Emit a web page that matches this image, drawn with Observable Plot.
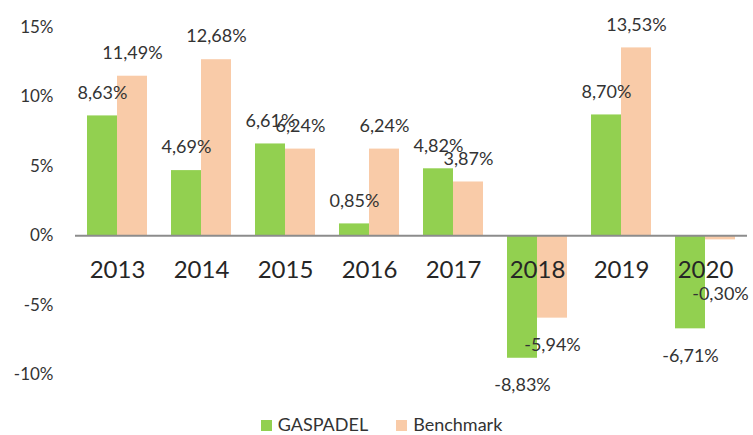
<!DOCTYPE html>
<html>
<head>
<meta charset="utf-8">
<script src="https://cdn.jsdelivr.net/npm/d3@7"></script>
<script src="https://cdn.jsdelivr.net/npm/@observablehq/plot@0.6"></script>
<style>
  html, body { margin: 0; padding: 0; background: #fff; }
  body { width: 753px; height: 435px; overflow: hidden; font-family: Lato, "Open Sans", sans-serif; }
  #legend { display: flex; justify-content: center; gap: 28px; font-size: 18px; color: #333; height: 30px; align-items: center; margin-left: 10px; padding-top: 4px; }
  #legend span.sw { display: inline-block; width: 11px; height: 11px; margin-right: 6px; vertical-align: 0px; }
</style>
</head>
<body>
<div id="chart"></div>
<div id="legend"></div>
<script>
const years = ["2013", "2014", "2015", "2016", "2017", "2018", "2019", "2020"];
const seriesNames = ["GASPADEL", "Benchmark"];
const gaspadel = [8.63, 4.69, 6.61, 0.85, 4.82, -8.83, 8.70, -6.71];
const benchmark = [11.49, 12.68, 6.24, 6.24, 3.87, -5.94, 13.53, -0.30];
const yTicks = [-10, -5, 0, 5, 10, 15];
const colors = ["#92D050", "#F9CBA8"];

const rows = [];
years.forEach((y, i) => {
  rows.push({year: y, series: seriesNames[0], value: gaspadel[i]});
  rows.push({year: y, series: seriesNames[1], value: benchmark[i]});
});
const fmt = v => v.toFixed(2).replace(".", ",") + "%";
const pos = rows.filter(d => d.value >= 0);
const neg = rows.filter(d => d.value < 0);

const chart = Plot.plot({
  width: 753,
  height: 405,
  marginLeft: 74,
  marginRight: 5,
  marginTop: 27,
  marginBottom: 31,
  style: {fontFamily: "Lato, 'Open Sans', sans-serif", color: "#333", overflow: "visible", fontSize: "17px"},
  fx: {domain: years, padding: 0, axis: null},
  x: {domain: seriesNames, paddingInner: 0, paddingOuter: 0.4, axis: null},
  y: {domain: [-10, 15], ticks: yTicks, tickFormat: d => d + "%", tickSize: 0, tickPadding: 22, label: null},
  color: {domain: seriesNames, range: colors},
  marks: [
    Plot.barY(rows, {fx: "year", x: "series", y: "value", fill: "series"}),
    Plot.ruleY([0], {stroke: "#8c8c8c", strokeWidth: 2}),
    Plot.text(years, {fx: d => d, y: () => 0, text: d => d, dy: 35, fontSize: 24, fill: "#262626"}),
    Plot.text(pos, {fx: "year", x: "series", y: "value", text: d => fmt(d.value), dy: -23, fontSize: 18, fill: "#333"}),
    // negative labels sit below the bar end, but never on top of the year labels
    Plot.text(neg, {fx: "year", x: "series", y: d => Math.min(d.value, -2.3), text: d => fmt(d.value), dy: 27, fontSize: 18, fill: "#333"})
  ]
});
document.getElementById("chart").appendChild(chart);

const legend = document.getElementById("legend");
seriesNames.forEach((s, i) => {
  const item = document.createElement("div");
  item.innerHTML = `<span class="sw" style="background:${colors[i]}"></span>${s}`;
  legend.appendChild(item);
});
</script>
</body>
</html>
